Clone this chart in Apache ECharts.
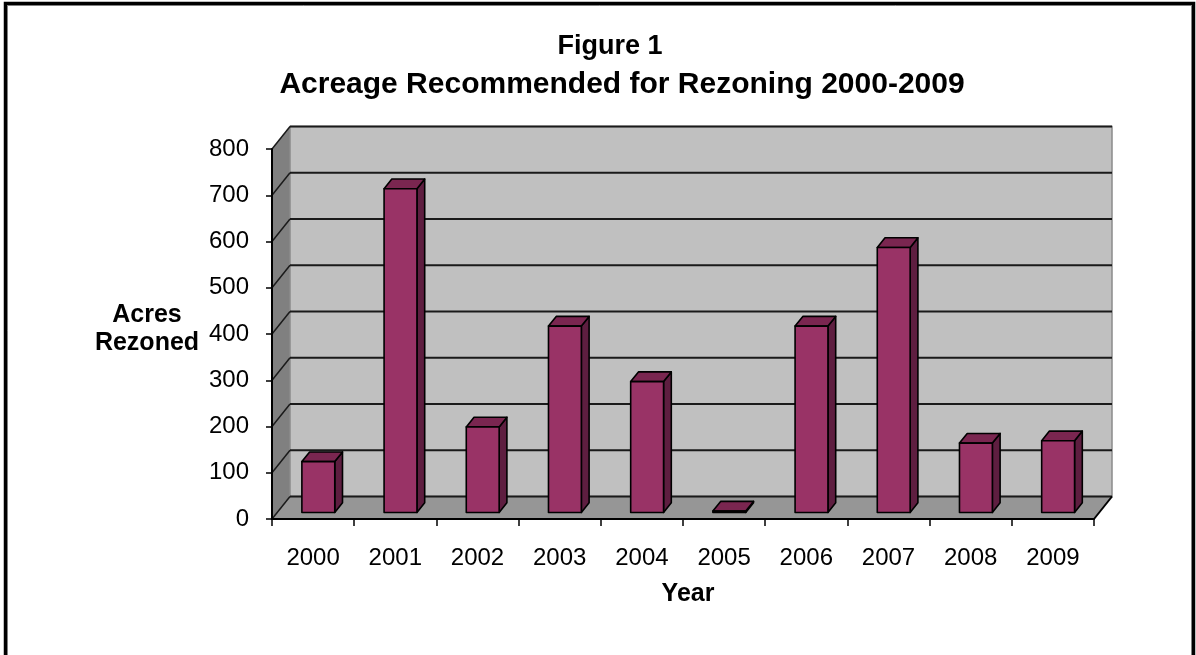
<!DOCTYPE html>
<html>
<head>
<meta charset="utf-8">
<title>Acreage Recommended for Rezoning 2000-2009</title>
<script src="https://cdn.jsdelivr.net/npm/echarts@6/dist/echarts.min.js"></script>
<style>
  html, body { margin: 0; padding: 0; background: #ffffff; }
  #chart { width: 1196px; height: 655px; }
</style>
</head>
<body>
<div id="chart"></div>
<script>
// Acres recommended for rezoning, by year
const years = ['2000', '2001', '2002', '2003', '2004', '2005', '2006', '2007', '2008', '2009'];
const acres = [110, 700, 185, 403, 283, 3, 403, 573, 150, 155];
const yTicks = [0, 100, 200, 300, 400, 500, 600, 700, 800];

const FONT = 'Arial, "Liberation Sans", sans-serif';
// oblique depth of the plot box (back wall offset from the front plane)
const DX = 18, DY = -22.5;
// bar placement inside the depth and its thickness
const BAR_FRONT = 0.29, BAR_DEPTH = 0.43, BAR_WIDTH = 0.40;

const chart = echarts.init(document.getElementById('chart'), null, { renderer: 'canvas' });

// back wall, side wall, floor and their gridlines
function renderWalls(params, api) {
  const n = years.length;
  const bw = api.size([1, 0])[0];
  const base = api.coord([0, 0]);
  const left = base[0] - bw / 2;
  const right = api.coord([n - 1, 0])[0] + bw / 2;
  const y0 = base[1];
  const yTop = api.coord([0, yTicks[yTicks.length - 1]])[1];
  const children = [
    { type: 'polygon', shape: { points: [[left, yTop], [left + DX, yTop + DY], [left + DX, y0 + DY], [left, y0]] },
      style: { fill: '#808080', stroke: null } },
    { type: 'polygon', shape: { points: [[left, y0], [left + DX, y0 + DY], [right + DX, y0 + DY], [right, y0]] },
      style: { fill: '#969696', stroke: null } },
    { type: 'rect', shape: { x: left + DX, y: yTop + DY, width: right - left, height: y0 - yTop },
      style: { fill: '#C0C0C0', stroke: '#8a8a8a', lineWidth: 1.5 } }
  ];
  yTicks.forEach(function (v) {
    const y = api.coord([0, v])[1];
    children.push({ type: 'line', shape: { x1: left + DX, y1: y + DY, x2: right + DX, y2: y + DY },
      style: { stroke: '#1a1a1a', lineWidth: 2 } });
    children.push({ type: 'line', shape: { x1: left, y1: y, x2: left + DX, y2: y + DY },
      style: { stroke: '#1a1a1a', lineWidth: 1.5 } });
  });
  children.push({ type: 'line', shape: { x1: right, y1: y0, x2: right + DX, y2: y0 + DY },
    style: { stroke: '#000', lineWidth: 2 } });
  return { type: 'group', children: children };
}

// 3-D column: front face, top face and right side face
function renderBar(params, api) {
  const idx = api.value(0);
  const val = api.value(1);
  const bw = api.size([1, 0])[0];
  const w = bw * BAR_WIDTH;
  const top = api.coord([idx, val]);
  const bottom = api.coord([idx, 0]);
  const ox = DX * BAR_FRONT, oy = DY * BAR_FRONT;
  const dx = DX * BAR_DEPTH, dy = DY * BAR_DEPTH;
  const L = top[0] - w / 2 + ox, R = top[0] + w / 2 + ox;
  const T = top[1] + oy, B = bottom[1] + oy;
  const edge = { stroke: '#000', lineWidth: 1.6, lineJoin: 'round' };
  return {
    type: 'group',
    children: [
      { type: 'polygon', shape: { points: [[R, T], [R + dx, T + dy], [R + dx, B + dy], [R, B]] },
        style: Object.assign({ fill: '#5E1E40' }, edge) },
      { type: 'polygon', shape: { points: [[L, T], [L + dx, T + dy], [R + dx, T + dy], [R, T]] },
        style: Object.assign({ fill: '#7A2650' }, edge) },
      { type: 'rect', shape: { x: L, y: T, width: w, height: Math.max(B - T, 0.5) },
        style: Object.assign({ fill: '#993366' }, edge) }
    ]
  };
}

chart.setOption({
  animation: false,
  backgroundColor: '#ffffff',
  graphic: [
    { type: 'rect', silent: true, z: 100,
      shape: { x: 5.5, y: 3.5, width: 1188, height: 700 },
      style: { fill: null, stroke: '#000', lineWidth: 3.5 } },
    { type: 'rect', silent: true, z: 100,
      shape: { x: 7.5, y: 5.5, width: 1184, height: 700 },
      style: { fill: null, stroke: '#808080', lineWidth: 1 } },
    { type: 'text', x: 610, y: 47, z: 100,
      style: { text: 'Figure 1', textAlign: 'center', textVerticalAlign: 'middle',
        fontFamily: FONT, fontSize: 27, fontWeight: 'bold', fill: '#000' } },
    { type: 'text', x: 622, y: 85, z: 100,
      style: { text: 'Acreage Recommended for Rezoning 2000-2009', textAlign: 'center', textVerticalAlign: 'middle',
        fontFamily: FONT, fontSize: 30, fontWeight: 'bold', fill: '#000' } },
    { type: 'text', x: 147, y: 315, z: 100,
      style: { text: 'Acres', textAlign: 'center', textVerticalAlign: 'middle',
        fontFamily: FONT, fontSize: 25, fontWeight: 'bold', fill: '#000' } },
    { type: 'text', x: 147, y: 343, z: 100,
      style: { text: 'Rezoned', textAlign: 'center', textVerticalAlign: 'middle',
        fontFamily: FONT, fontSize: 25, fontWeight: 'bold', fill: '#000' } }
  ],
  grid: { left: 272, top: 149, width: 822, height: 370, containLabel: false },
  xAxis: {
    type: 'category',
    data: years,
    boundaryGap: true,
    name: 'Year',
    nameLocation: 'middle',
    nameGap: 63,
    nameTextStyle: { fontFamily: FONT, fontSize: 25, fontWeight: 'bold', color: '#000', padding: [0, 0, 0, 10] },
    axisLine: { show: true, lineStyle: { color: '#000', width: 2 } },
    axisTick: { show: true, alignWithLabel: false, length: 7, lineStyle: { color: '#000', width: 1.5 } },
    axisLabel: { margin: 27, fontFamily: FONT, fontSize: 24, color: '#000' },
    splitLine: { show: false }
  },
  yAxis: {
    type: 'value',
    min: yTicks[0],
    max: yTicks[yTicks.length - 1],
    interval: yTicks[1] - yTicks[0],
    axisLine: { show: true, lineStyle: { color: '#000', width: 2 } },
    axisTick: { show: true, length: 6, lineStyle: { color: '#000', width: 1.5 } },
    axisLabel: { margin: 23, fontFamily: FONT, fontSize: 24, color: '#000' },
    splitLine: { show: false }
  },
  series: [
    {
      type: 'custom',
      name: 'walls',
      z: -1,
      silent: true,
      clip: false,
      data: [[0, 0]],
      renderItem: renderWalls
    },
    {
      type: 'custom',
      name: 'Acres Rezoned',
      z: 3,
      clip: false,
      data: acres.map(function (v, i) { return [i, v]; }),
      encode: { x: 0, y: 1 },
      renderItem: renderBar
    }
  ]
});
</script>
</body>
</html>
